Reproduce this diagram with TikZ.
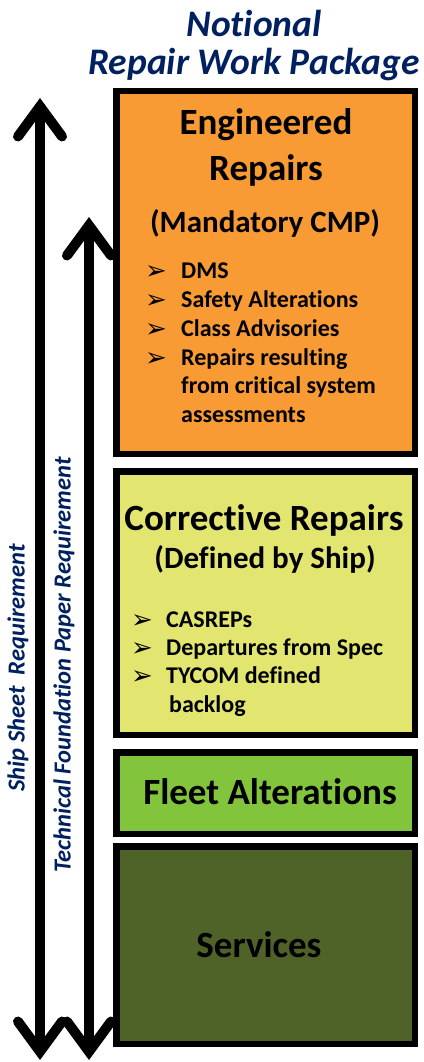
\documentclass[tikz,border=0pt]{standalone}
\usepackage{fontspec}
\setmainfont{Carlito}[RawFeature=-liga]
\newfontfamily\symfont{DejaVu Sans}
\usepackage{tikz}
\definecolor{navy}{RGB}{0, 32, 96}
\definecolor{engorange}{RGB}{249, 155, 52}
\definecolor{coryellow}{RGB}{226, 230, 112}
\definecolor{fleetgreen}{RGB}{130, 196, 60}
\definecolor{svcolive}{RGB}{79, 98, 40}
\usetikzlibrary{positioning}
\usetikzlibrary{arrows.meta}

\begin{document}
\begin{tikzpicture}[
  box/.style={rectangle, inner sep=0pt, line width=6.5pt, draw=black, minimum width=298.5pt},
  head/.style={font=\bfseries\fontsize{37}{40}\selectfont, inner sep=0pt, anchor=base},
  sub/.style={font=\bfseries\fontsize{31}{34}\selectfont, inner sep=0pt, anchor=base},
  item/.style={font=\bfseries\fontsize{24}{26}\selectfont, inner sep=0pt, anchor=base west},
  tick/.style={font=\symfont\fontsize{26}{28}\selectfont, inner sep=0pt, anchor=base west},
  title/.style={font=\bfseries\itshape\fontsize{37.5}{40}\selectfont, text=navy, inner sep=0pt, anchor=base},
  req/.style={font=\bfseries\itshape\fontsize{24.5}{26}\selectfont, text=navy, inner sep=0pt, rotate=90},
  reqarrow/.style={line width=10pt,
    {Straight Barb[length=30pt,width=44pt,line cap=round,line join=miter]}-{Straight Barb[length=30pt,width=44pt,line cap=round,line join=miter]}}
]
\useasboundingbox (0pt,0pt) rectangle (423pt,-1062pt);

% title
\node (t1) [title] at (254pt, -37pt) {Notional};
\node (t2) [title] at (254pt, -75pt) {Repair Work Package};

% the four boxes
\node (eng) [box, fill=engorange, minimum height=362.5pt] at (265.5pt, -272.5pt) {};
\node (cor) [box, fill=coryellow, minimum height=263.5pt] at (265.5pt, -603pt) {};
\node (flt) [box, fill=fleetgreen, minimum height=81.5pt] at (265.5pt, -793pt) {};
\node (svc) [box, fill=svcolive, minimum height=197.5pt] at (265.5pt, -945pt) {};

% engineered repairs
\node (eng1) [head] at (266pt, -135pt) {Engineered};
\node (eng2) [head] at (266pt, -180pt) {Repairs};
\node (eng3) [sub] at (265pt, -232pt) {(Mandatory CMP)};
\node (e1) [tick] at (145pt, -279pt) {➢};
\node (e2) [tick] at (145pt, -308pt) {➢};
\node (e3) [tick] at (145pt, -337pt) {➢};
\node (e4) [tick] at (145pt, -366pt) {➢};
\node (i1) [item] at (181pt, -278pt) {DMS};
\node (i2) [item] at (181pt, -307pt) {Safety Alterations};
\node (i3) [item] at (181pt, -336pt) {Class Advisories};
\node (i4) [item] at (181pt, -365pt) {Repairs resulting};
\node (i5) [item] at (181pt, -393pt) {from critical system};
\node (i6) [item] at (181pt, -422pt) {assessments};

% corrective repairs
\node (cor1) [head] at (264pt, -530pt) {Corrective Repairs};
\node (cor2) [sub] at (265pt, -568pt) {(Defined by Ship)};
\node (c1) [tick] at (131pt, -628pt) {➢};
\node (c2) [tick] at (131pt, -656pt) {➢};
\node (c3) [tick] at (131pt, -684pt) {➢};
\node (j1) [item] at (166pt, -627pt) {CASREPs};
\node (j2) [item] at (166pt, -655pt) {Departures from Spec};
\node (j3) [item] at (166pt, -683pt) {TYCOM defined};
\node (j4) [item] at (169pt, -712pt) {backlog};

% fleet alterations and services
\node (flt1) [head] at (270pt, -804pt) {Fleet Alterations};
\node (svc1) [head] at (259pt, -957pt) {Services};

% requirement arrows
\coordinate (ship top) at (40pt, -98pt);
\coordinate (ship bot) at (40pt, -1060pt);
\coordinate (tfp top) at (89pt, -217pt);
\coordinate (tfp bot) at (89pt, -1060pt);
\draw [reqarrow] (ship bot) -- (ship top);
\draw [reqarrow] (tfp bot) -- (tfp top);
\node (shipreq) [req] at (18pt, -668pt) {Ship Sheet\ \ Requirement};
\node (tfpreq) [req] at (64pt, -665pt) {Technical Foundation Paper Requirement};
\end{tikzpicture}
\end{document}
